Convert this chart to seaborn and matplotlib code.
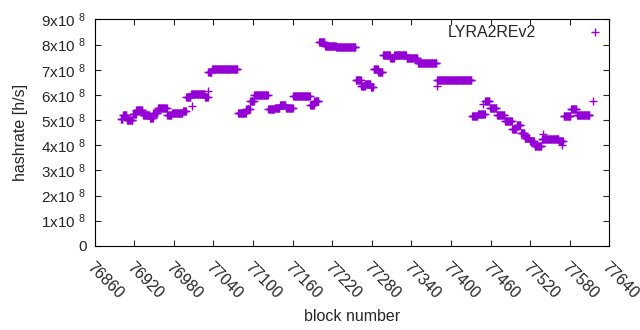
import numpy as np
import pandas as pd
import matplotlib
matplotlib.use("Agg")
import matplotlib.pyplot as plt
import seaborn as sns

# runs of constant hashrate (start block of each run, value in 1e8 h/s)
run_start = [76900, 76903, 76909, 76918, 76923, 76933, 76944, 76949, 76956, 76970,
             76977, 76994, 76999, 77006, 77027, 77032, 77038, 77077, 77090, 77096,
             77102, 77123, 77133, 77141, 77150, 77161, 77187, 77193, 77200, 77209,
             77226, 77256, 77264, 77270, 77279, 77283, 77290, 77297, 77308, 77314,
             77333, 77350, 77379, 77432, 77441, 77452, 77459, 77470, 77482, 77493,
             77500, 77506, 77512, 77520, 77527, 77538, 77564, 77571, 77582, 77591]
last_block = 77611
run_rate = [5.05, 5.2, 5.0, 5.25, 5.4, 5.2, 5.1, 5.3, 5.5, 5.2,
            5.3, 5.35, 5.9, 6.05, 5.9, 6.9, 7.05, 5.3, 5.45, 5.75,
            6.0, 5.45, 5.5, 5.6, 5.5, 5.95, 5.6, 5.75, 8.1, 7.95,
            7.9, 6.6, 6.35, 6.45, 6.3, 7.05, 6.9, 7.6, 7.45, 7.6,
            7.45, 7.25, 6.6, 5.15, 5.25, 5.75, 5.5, 5.2, 4.95, 4.65,
            4.8, 4.5, 4.3, 4.15, 3.95, 4.25, 4.15, 5.15, 5.45, 5.2]

# single odd blocks
odd_block = [77008, 77032, 77379, 77448, 77539, 77569, 77615]
odd_rate = [5.55, 6.15, 6.35, 5.65, 4.45, 4.0, 5.75]

xticks = list(range(76860, 77641, 60))

ends = run_start[1:] + [last_block]
blocks = np.concatenate([np.arange(a, b) for a, b in zip(run_start, ends)] + [odd_block])
rates = np.concatenate([np.repeat(run_rate, np.diff(run_start + [last_block])), odd_rate])
df = pd.DataFrame({"block": blocks, "hashrate": rates * 1e8})

sns.set_style("ticks")
plt.rcParams["font.family"] = ["Liberation Sans Narrow", "Liberation Sans", "DejaVu Sans"]
plt.rcParams["mathtext.default"] = "regular"

fig = plt.figure(figsize=(6.4, 3.3), dpi=100)
ax = fig.add_axes([0.148, 0.255, 0.804, 0.686])

sns.scatterplot(data=df, x="block", y="hashrate", marker="+", color="#9400d3",
                s=28, linewidth=1, ax=ax, label="LYRA2REv2")

ax.set_xlim(76860, 77640)
ax.set_ylim(0, 9e8)
ax.set_xticks(xticks)
ax.set_xticklabels([str(t) for t in xticks], rotation=-45, ha="left", va="top",
                   rotation_mode="anchor", fontsize=11.5)
ax.set_yticks([i * 1e8 for i in range(10)])
ax.set_yticklabels(["0"] + [f"{i}x10 $^{{8}}$" for i in range(1, 10)], fontsize=11)
ax.tick_params(direction="in", length=4.5, width=0.8, top=True, right=True, pad=6)
ax.tick_params(axis="x", pad=10)
for sp in ax.spines.values():
    sp.set_linewidth(0.8)
    sp.set_color("black")

ax.set_xlabel("block number", fontsize=11.5, labelpad=5)
ax.set_ylabel("hashrate [h/s]", fontsize=11.5, labelpad=10)

ax.legend(loc="upper right", bbox_to_anchor=(1.0175, 1.027), frameon=False,
          markerfirst=False, fontsize=11.5, handlelength=1.5, handletextpad=2.95,
          borderaxespad=0.3)

fig.savefig("out.png", dpi=100)
